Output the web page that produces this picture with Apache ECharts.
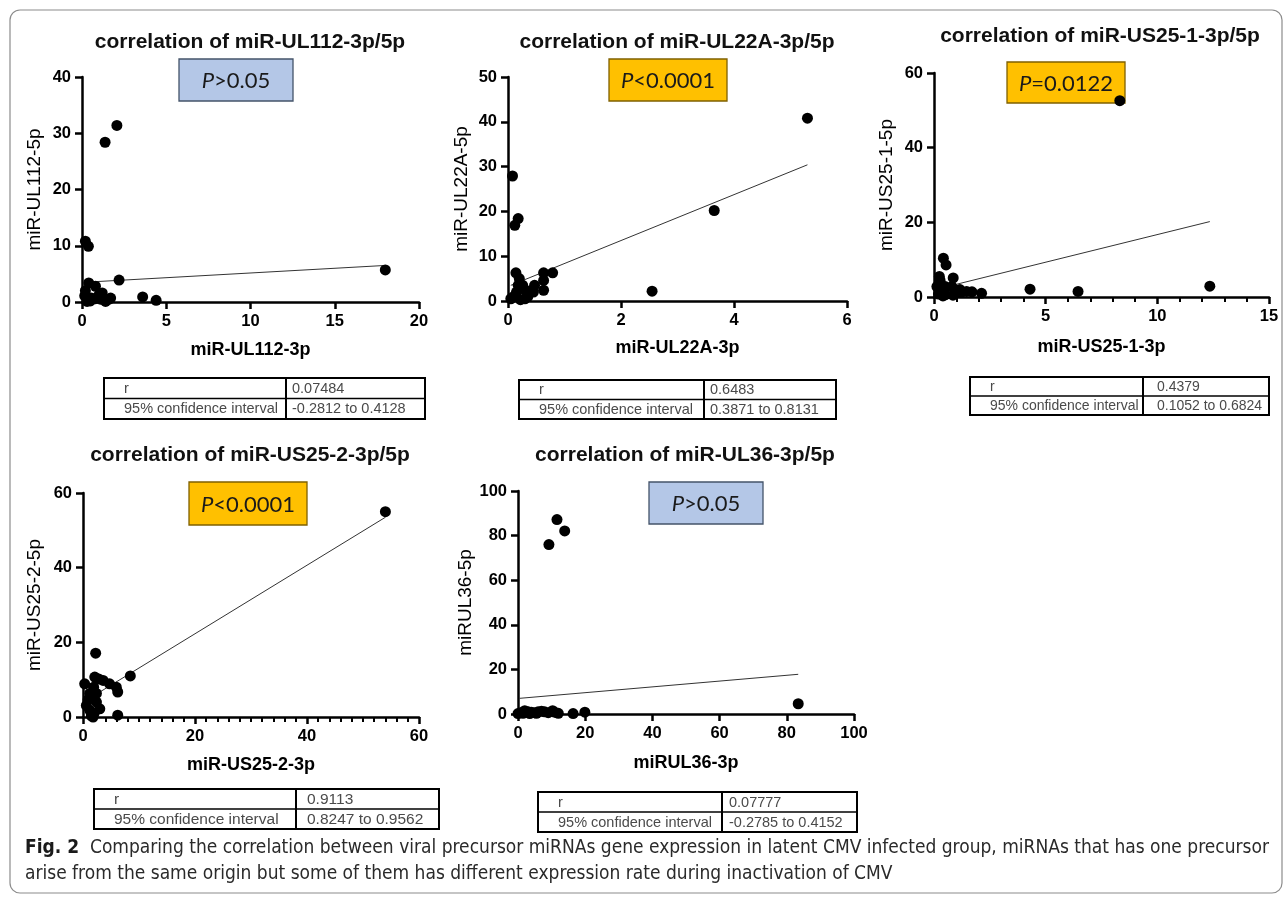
<!DOCTYPE html>
<html><head><meta charset="utf-8">
<script src="https://cdn.jsdelivr.net/npm/echarts@6/dist/echarts.min.js"></script>
<style>html,body{margin:0;padding:0;background:#fff}#c{width:1285px;height:900px}</style>
</head><body><div id="c"></div>
<script>
// ---------- DATA ----------
const panelTitles = ['correlation of miR-UL112-3p/5p','correlation of miR-UL22A-3p/5p','correlation of miR-US25-1-3p/5p','correlation of miR-US25-2-3p/5p','correlation of miR-UL36-3p/5p'];
const xNames = ['miR-UL112-3p','miR-UL22A-3p','miR-US25-1-3p','miR-US25-2-3p','miRUL36-3p'];
const yNames = ['miR-UL112-5p','miR-UL22A-5p','miR-US25-1-5p','miR-US25-2-5p','miRUL36-5p'];
const pTexts = ['>0.05','<0.0001','=0.0122','<0.0001','>0.05'];
const pSignificant = [false,true,true,true,false];
const xScales = [[0,20,5],[0,6,2],[0,15,5],[0,60,20],[0,100,20]];   // min, max, interval
const yScales = [[0,40,10],[0,50,10],[0,60,20],[0,60,20],[0,100,20]];
const rowLabels = ['r','95% confidence interval'];
const rValues = ['0.07484','0.6483','0.4379','0.9113','0.07777'];
const ciValues = ['-0.2812 to 0.4128','0.3871 to 0.8131','0.1052 to 0.6824','0.8247 to 0.9562','-0.2785 to 0.4152'];

const ul112Points = [[2.07,31.4],[1.37,28.4],[0.2,10.8],[0.38,9.9],[18.0,5.7],[2.2,3.9],[3.6,0.9],[4.4,0.3],[0.4,3.4],[0.8,2.8],
  [0.16,1.1],[0.3,0.1],[0.55,0.7],[1.1,0.5],[1.2,1.6],[1.6,0.5],[1.7,0.7],[0.5,0.2],[1.4,0.1],[0.2,2.0],[0.8,0.6],[1.0,1.2]];
const ul22aPoints = [[5.3,40.8],[3.65,20.2],[2.55,2.2],[0.08,27.9],[0.18,18.4],[0.12,16.9],[0.14,6.3],[0.2,5.0],[0.63,6.3],[0.79,6.3],
  [0.63,4.6],[0.63,2.4],[0.47,3.5],[0.45,2.0],[0.26,3.5],[0.1,1.0],[0.05,0.5],[0.35,1.0],[0.4,2.2],[0.3,0.5],[0.15,2.0],[0.22,0.3],[0.3,2.5],[0.18,3.5]];
const us251Points = [[8.32,52.6],[12.35,2.9],[6.45,1.5],[4.3,2.1],[2.13,1.0],[0.42,10.4],[0.54,8.6],[0.24,5.5],[0.86,5.1],[0.27,4.5],
  [0.13,2.8],[0.5,2.8],[0.8,2.8],[1.16,2.0],[1.46,1.5],[1.7,1.4],[0.5,0.6],[0.2,0.8],[0.85,0.5],[0.4,0.3],[1.0,1.5],[1.2,1.2]];
const us252Points = [[54.0,55.0],[8.45,11.0],[2.26,17.1],[0.3,8.9],[2.1,10.7],[3.6,9.8],[4.75,8.9],[5.95,8.0],[6.2,6.7],[1.9,8.0],
  [1.2,6.3],[2.4,6.3],[0.6,3.1],[2.4,4.0],[3.0,2.2],[1.2,1.8],[1.8,0.0],[6.2,0.5],[1.5,0.3],[2.8,10.2],[0.9,4.6],[2.0,1.0]];
const ul36Points = [[11.6,87.2],[13.9,82.1],[9.2,76.0],[83.4,4.6],[19.9,0.8],[16.4,0.2],[0.0,0.2],[0.8,0.6],[2.0,1.5],[3.0,1.0],
  [4.0,0.8],[5.0,0.6],[6.0,1.0],[7.0,1.2],[7.9,1.0],[10.3,1.5],[10.9,0.8],[12.0,0.3],[3.5,0.2],[5.5,0.3],[9.0,0.6],[1.5,0.3]];
const fitLines = [
  [[0.1,3.5],[18.0,6.5]],
  [[0.05,3.5],[5.3,30.4]],
  [[1.0,3.4],[12.35,20.2]],
  [[0.5,4.4],[54.0,53.5]],
  [[0.3,7.0],[83.4,17.8]]
];
const allPoints = [ul112Points, ul22aPoints, us251Points, us252Points, ul36Points];
const captionBold = 'Fig. 2';
const captionLine1 = 'Comparing the correlation between viral precursor miRNAs gene expression in latent CMV infected group, miRNAs that has one precursor';
const captionLine2 = 'arise from the same origin but some of them has different expression rate during inactivation of CMV';

// ---------- LAYOUT ----------
const layout = [
  {grid:[82,77,337,225],  title:[250,42],  pbox:[179,59,114,42], table:[104,378,321,41,286], rpad:4, tfs:14.5, ygap:38, xgap:39},
  {grid:[508,77,339,224], title:[677,42],  pbox:[609,59,118,42], table:[519,380,317,39,704], rpad:4, tfs:14.5, ygap:37, xgap:38},
  {grid:[934,73,335,224], title:[1100,36], pbox:[1007,62,118,41], table:[970,377,299,38,1143], rpad:12, tfs:14, ygap:38, xgap:41},
  {grid:[83,493,336,224], title:[250,455], pbox:[189,482,118,43], table:[94,789,345,40,296], rpad:9, tfs:15.5, ygap:39, xgap:39},
  {grid:[518,491,336,223],title:[685,455], pbox:[649,482,114,42], table:[538,792,319,40,722], rpad:5, tfs:14.5, ygap:41, xgap:40}
];

const FONT = 'Arial, "Liberation Sans", sans-serif';
const grids = [], xAxes = [], yAxes = [], series = [], graphics = [];

graphics.push({type:'rect', shape:{x:10,y:10,width:1272,height:883,r:10}, style:{fill:'none', stroke:'#8c8c8c', lineWidth:1.2}, z:0});

layout.forEach((L, i) => {
  const [gl, gt, gw, gh] = L.grid;
  grids.push({left:gl, top:gt, width:gw, height:gh, containLabel:false});
  const axisCommon = {
    axisLine:{show:true, onZero:false, lineStyle:{color:'#000', width:2.5}},
    axisTick:{show:true, inside:false, length:7, lineStyle:{color:'#000', width:2.5}},
    splitLine:{show:false},
    nameLocation:'middle'
  };
  const hasMinor = (i === 2 || i === 3);
  xAxes.push(Object.assign({}, axisCommon, {
    gridIndex:i, type:'value', min:xScales[i][0], max:xScales[i][1], interval:xScales[i][2],
    name:xNames[i], nameGap:L.xgap,
    nameTextStyle:{color:'#000', fontWeight:'bold', fontSize:18, fontFamily:FONT},
    minorTick:{show:hasMinor, splitNumber:(i===2?5:10), length:5, lineStyle:{color:'#000', width:2}},
    axisLabel:{color:'#000', fontWeight:'bold', fontSize:16.5, fontFamily:FONT, margin:11}
  }));
  yAxes.push(Object.assign({}, axisCommon, {
    gridIndex:i, type:'value', min:yScales[i][0], max:yScales[i][1], interval:yScales[i][2],
    name:yNames[i], nameGap:L.ygap,
    nameTextStyle:{color:'#000', fontWeight:'normal', fontSize:19, fontFamily:FONT},
    axisLabel:{color:'#000', fontWeight:'bold', fontSize:16.5, fontFamily:FONT, margin:11}
  }));
  series.push({type:'line', xAxisIndex:i, yAxisIndex:i, data:fitLines[i], symbol:'none',
    lineStyle:{color:'#333', width:1}, silent:true, z:2});
  series.push({type:'scatter', xAxisIndex:i, yAxisIndex:i, data:allPoints[i], symbol:'circle',
    symbolSize:11, itemStyle:{color:'#000', opacity:1}, z:20});

  // panel title
  graphics.push({type:'text', x:L.title[0], y:L.title[1], style:{text:panelTitles[i], fill:'#111',
    font:'bold 21px ' + FONT, textAlign:'center', textVerticalAlign:'middle'}, z:5});
  // P box
  const [px, py, pw, ph] = L.pbox;
  graphics.push({type:'rect', shape:{x:px, y:py, width:pw, height:ph},
    style:{fill: pSignificant[i] ? '#ffc000' : '#b4c7e7', stroke: pSignificant[i] ? '#7f6000' : '#44546a', lineWidth:1.3}, z:1});
  graphics.push({type:'text', x:px + pw/2, y:py + ph/2 + 1, style:{
    text:'{i|P}{n|' + pTexts[i] + '}',
    rich:{i:{fontStyle:'italic', fontSize:22, fontFamily:'Lato, "Open Sans", sans-serif', fill:'#1a1a1a'},
          n:{fontSize:22, fontFamily:'Lato, "Open Sans", sans-serif', fill:'#1a1a1a'}},
    textAlign:'center', textVerticalAlign:'middle'}, z:1});
  // table
  const [tx, ty, tw, th, tdiv] = L.table;
  const rowH = th/2;
  graphics.push({type:'rect', shape:{x:tx, y:ty, width:tw, height:th}, style:{fill:'#fff', stroke:'#000', lineWidth:2}, z:5});
  graphics.push({type:'line', shape:{x1:tx, y1:ty+rowH, x2:tx+tw, y2:ty+rowH}, style:{stroke:'#000', lineWidth:1.5}, z:6});
  graphics.push({type:'line', shape:{x1:tdiv, y1:ty, x2:tdiv, y2:ty+th}, style:{stroke:'#000', lineWidth:2}, z:6});
  const vals = [rValues[i], ciValues[i]];
  for (let r = 0; r < 2; r++) {
    graphics.push({type:'text', x:tx+20, y:ty + rowH*r + rowH/2 + 0.5, style:{text:rowLabels[r], fill:'#4a4a4a',
      font:L.tfs + 'px ' + FONT, textAlign:'left', textVerticalAlign:'middle'}, z:7});
    graphics.push({type:'text', x:tdiv + L.rpad + 2, y:ty + rowH*r + rowH/2 + 0.5, style:{text:vals[r], fill:'#4a4a4a',
      font:L.tfs + 'px ' + FONT, textAlign:'left', textVerticalAlign:'middle'}, z:7});
  }
});

// caption
const CAPF = '"Liberation Sans Narrow", "DejaVu Sans Condensed", "Arial Narrow", sans-serif';
graphics.push({type:'text', x:25, y:848, style:{
  text:'{b|' + captionBold + '}{s|  }{t|' + captionLine1 + '}',
  rich:{b:{fontWeight:'bold', fontSize:19, fontFamily:CAPF, fill:'#1a1a1a'},
        s:{fontSize:19, fontFamily:CAPF},
        t:{fontSize:19, fontFamily:CAPF, fill:'#2a2a2a'}},
  textAlign:'left', textVerticalAlign:'middle'}, z:7});
graphics.push({type:'text', x:25, y:874, style:{text:captionLine2, fontSize:19, fontFamily:CAPF, fill:'#2a2a2a',
  textAlign:'left', textVerticalAlign:'middle'}, z:7});

const chart = echarts.init(document.getElementById('c'), null, {renderer:'canvas'});
chart.setOption({
  backgroundColor:'#fff',
  animation:false,
  grid:grids, xAxis:xAxes, yAxis:yAxes, series:series, graphic:graphics
});
</script></body></html>
